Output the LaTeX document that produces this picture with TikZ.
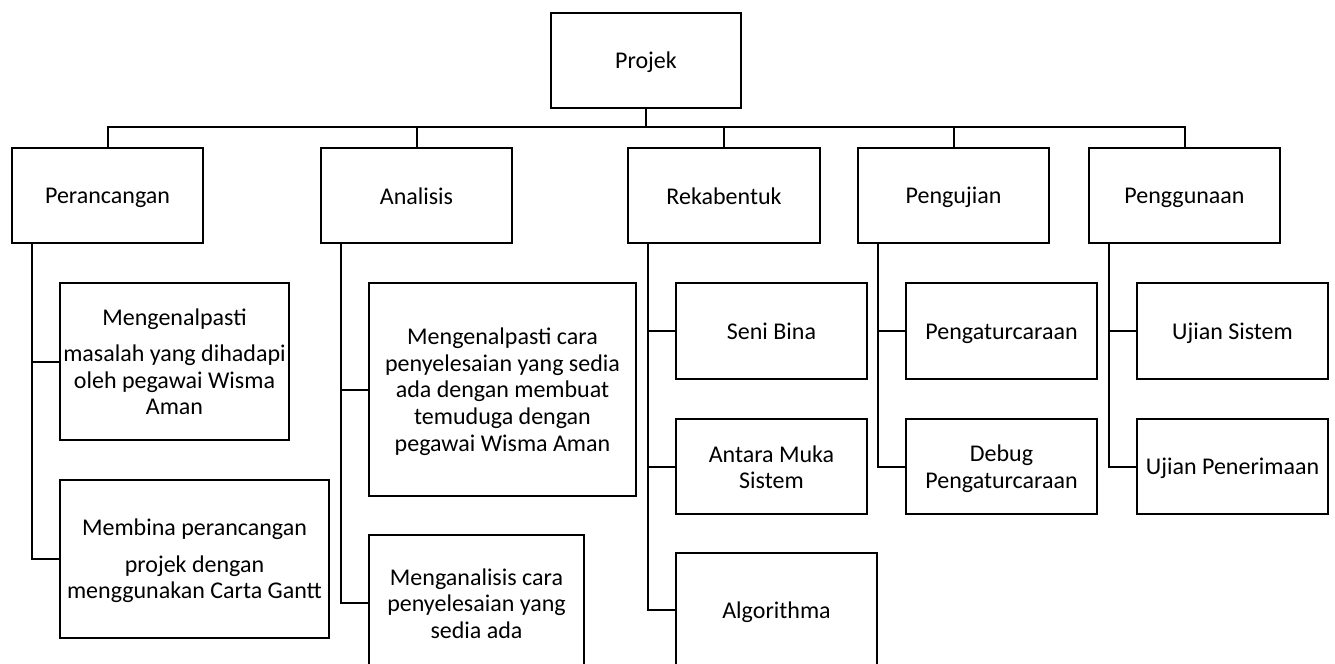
\documentclass[tikz,border=0pt]{standalone}
\usepackage{fontspec}
\setmainfont{Carlito}
% strut that keeps the text block slightly low in its box
\newcommand\boxstrut{\rule[-1.6pt]{0pt}{12pt}}
\begin{document}
\begin{tikzpicture}[x=0.5pt,y=-0.5pt,
  wb/.style={draw, line width=1pt, inner sep=0pt, outer sep=0pt, align=center,
    font=\fontsize{12}{13.3}\selectfont, fill=white},
  link/.style={line width=1pt}]
% canvas
\clip (0,0) rectangle (1335,664);
\fill[white] (0,0) rectangle (1335,664);
% box helper: name, x1, y1, x2, y2, text
\newcommand\wbox[6]{\node[wb, minimum width={(#4-#2)*0.5pt}, minimum height={(#5-#3)*0.5pt}]
  (#1) at ({(#2+#4)/2},{(#3+#5)/2}) {\boxstrut#6\boxstrut};}

% root and first level
\wbox{proj}{551}{13}{741}{108}{Projek}
\wbox{per}{12}{148}{203}{243}{Perancangan}
\wbox{ana}{321}{148}{512}{243}{Analisis}
\wbox{rek}{628}{148}{820}{243}{Rekabentuk}
\wbox{uji}{858}{148}{1049}{243}{Pengujian}
\wbox{gun}{1089}{148}{1280}{243}{Penggunaan}

% second level
\wbox{m1}{60}{283}{289}{440}{Mengenalpasti\\[4.5pt] masalah yang dihadapi\\ oleh pegawai Wisma\\ Aman}
\wbox{m2}{60}{480}{329}{638}{Membina perancangan\\[5pt] projek dengan\\ menggunakan Carta Gantt}
\wbox{a1}{369}{283}{636}{496}{Mengenalpasti cara\\ penyelesaian yang sedia\\ ada dengan membuat\\ temuduga dengan\\ pegawai Wisma Aman}
\wbox{a2}{369}{535}{584}{671}{Menganalisis cara\\ penyelesaian yang\\ sedia ada}
\wbox{r1}{676}{283}{867}{379}{Seni Bina}
\wbox{r2}{676}{419}{867}{514}{Antara Muka\\ Sistem}
\wbox{r3}{676}{553}{877}{667}{Algorithma}
\wbox{p1}{906}{283}{1097}{379}{Pengaturcaraan}
\wbox{p2}{906}{419}{1097}{514}{Debug\\ Pengaturcaraan}
\wbox{g1}{1137}{283}{1328}{379}{Ujian Sistem}
\wbox{g2}{1137}{419}{1328}{514}{Ujian Penerimaan}

% root to first level
\foreach \c in {per,ana,rek,uji,gun}
  \draw[link] (proj.south) -- ++(0,19) -| (\c.north);

% first level to second level
\foreach \p/\c in {per/m1,per/m2,ana/a1,ana/a2,rek/r1,rek/r2,rek/r3,uji/p1,uji/p2,gun/g1,gun/g2}
  \draw[link] ([xshift=10pt]\p.south west) |- (\c.west);
\end{tikzpicture}
\end{document}
